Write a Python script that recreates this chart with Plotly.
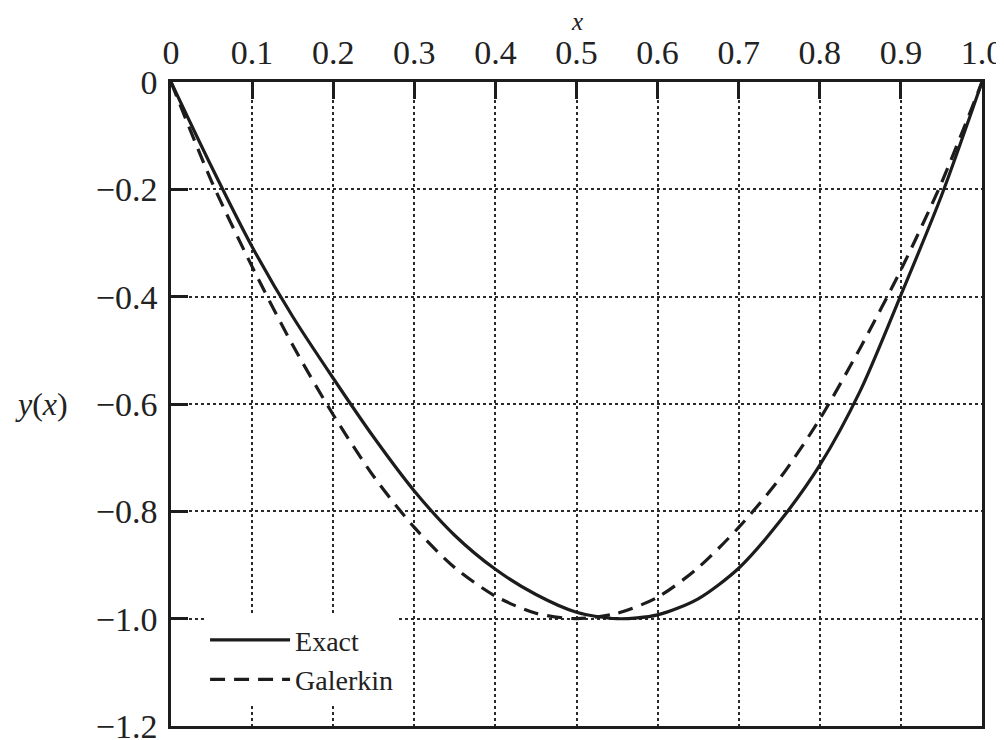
import plotly.graph_objects as go

# ---- data ----
x_vals = [0.0, 0.05, 0.10, 0.15, 0.20, 0.25, 0.30, 0.35, 0.40, 0.45, 0.50,
          0.55, 0.60, 0.65, 0.70, 0.75, 0.80, 0.85, 0.90, 0.95, 1.0]
exact_vals = [0.0, -0.158, -0.307, -0.437, -0.552, -0.662, -0.762, -0.845, -0.908, -0.955, -0.988,
              -1.0, -0.993, -0.963, -0.906, -0.82, -0.714, -0.575, -0.397, -0.212, 0.0]
galerkin_vals = [0.0, -0.185, -0.344, -0.49, -0.62, -0.735, -0.83, -0.905, -0.958, -0.99, -1.0,
                 -0.99, -0.96, -0.905, -0.83, -0.74, -0.628, -0.495, -0.35, -0.188, 0.0]

x_ticks = [0.0, 0.1, 0.2, 0.3, 0.4, 0.5, 0.6, 0.7, 0.8, 0.9, 1.0]
x_ticktext = ["0", "0.1", "0.2", "0.3", "0.4", "0.5", "0.6", "0.7", "0.8", "0.9", "1.0"]
y_ticks = [0.0, -0.2, -0.4, -0.6, -0.8, -1.0, -1.2]
y_ticktext = ["0", "\u22120.2", "\u22120.4", "\u22120.6", "\u22120.8", "\u22121.0", "\u22121.2"]

series_names = ["Exact", "Galerkin"]

SERIF = "Liberation Serif, Times New Roman, serif"
INK = "#1c1c1c"

fig = go.Figure()
fig.add_trace(go.Scatter(
    x=x_vals, y=exact_vals, mode="lines", name=series_names[0],
    line=dict(color=INK, width=3.2, shape="spline", smoothing=0.8),
))
fig.add_trace(go.Scatter(
    x=x_vals, y=galerkin_vals, mode="lines", name=series_names[1],
    line=dict(color=INK, width=3.2, dash="15px,9px", shape="spline", smoothing=0.8),
))

axis_common = dict(
    showline=True, linecolor=INK, linewidth=2.5, mirror=True,
    showgrid=True, gridcolor="#2a2a2a", gridwidth=1.8, griddash="dot",
    ticks="inside", ticklen=17, tickwidth=2.5, tickcolor=INK,
    tickfont=dict(family=SERIF, size=34, color="#222"),
    zeroline=False, automargin=False, ticklabeloverflow="allow",
)

fig.update_xaxes(
    range=[0, 1.0], side="top", tickmode="array",
    tickvals=x_ticks, ticktext=x_ticktext, ticklabelstandoff=2, **axis_common,
)
fig.update_yaxes(
    range=[-1.2, 0], tickmode="array",
    tickvals=y_ticks, ticktext=y_ticktext, ticklabelstandoff=4, **axis_common,
)

fig.add_annotation(
    text="<i>x</i>", xref="paper", yref="paper", x=0.5, y=1.0932,
    xanchor="center", yanchor="middle", showarrow=False,
    font=dict(family=SERIF, size=25, color="#222"),
)
fig.add_annotation(
    text="<i>y</i>(<i>x</i>)", xref="paper", yref="y", x=-0.1245, y=-0.6,
    xanchor="right", yanchor="middle", showarrow=False,
    font=dict(family=SERIF, size=32, color="#222"),
)

# page body adds an 8px margin, so the figure is 8px smaller than the window
fig.update_layout(
    width=996, height=732,
    margin=dict(l=163, r=22, t=74, b=14),
    paper_bgcolor="white", plot_bgcolor="white",
    showlegend=True,
    legend=dict(
        x=0.042, y=0.172, xanchor="left", yanchor="top",
        bgcolor="white", borderwidth=0,
        font=dict(family=SERIF, size=28, color="#222"),
        itemwidth=80, tracegroupgap=0,
    ),
)

fig.write_html("out.html")
